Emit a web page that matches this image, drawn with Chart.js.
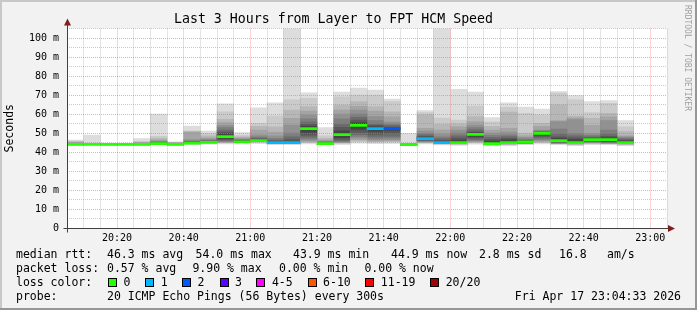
<!DOCTYPE html>
<html><head><meta charset="utf-8">
<script src="https://cdn.jsdelivr.net/npm/chart.js@4"></script>
<style>
html,body{margin:0;padding:0;background:#f2f2f2;}
#wrap{position:relative;width:697px;height:310px;overflow:hidden;}
canvas{position:absolute;left:0;top:0;}
.t{position:absolute;font-family:'DejaVu Sans Mono',monospace;font-size:11.5px;line-height:14px;white-space:pre;color:#000;}
.box{position:absolute;width:9px;height:9px;box-sizing:border-box;border:1px solid #000;}
#wm{position:absolute;left:683px;top:5px;font-family:'DejaVu Sans Mono',monospace;font-size:8px;color:#a0a0a0;writing-mode:vertical-rl;white-space:pre;}
</style></head>
<body><div id="wrap"><canvas id="c" width="697" height="310"></canvas><div id="wm">RRDTOOL / TOBI OETIKER</div></div>
<script>
// ---------- data ----------
const titleText = 'Last 3 Hours from Layer to FPT HCM Speed';
const axisStart = '20:05';
const axisEnd = '23:05';
const yMax = 105;
const intervalStarts = ['20:05','20:10','20:15','20:20','20:25','20:30','20:35','20:40','20:45','20:50',
  '20:55','21:00','21:05','21:10','21:15','21:20','21:25','21:30','21:35','21:40',
  '21:45','21:50','21:55','22:00','22:05','22:10','22:15','22:20','22:25','22:30',
  '22:35','22:40','22:45','22:50'];
// 20 sorted ping times (ms) per 5-minute interval
const pingsSorted = [
  [43.6,43.7,43.8,43.8,43.9,43.9,43.9,44.0,44.0,44.0,44.0,44.1,44.2,44.3,44.5,44.7,45.0,45.3,45.8,46.3],
  [43.7,43.8,43.8,43.9,43.9,43.9,44.0,44.0,44.0,44.0,44.0,44.1,44.1,44.2,44.2,44.3,44.4,44.5,44.7,48.9],
  [43.6,43.7,43.8,43.8,43.9,43.9,43.9,44.0,44.0,44.0,44.0,44.0,44.1,44.1,44.1,44.2,44.2,44.3,44.4,44.5],
  [43.7,43.7,43.8,43.8,43.9,43.9,44.0,44.0,44.0,44.0,44.0,44.1,44.1,44.1,44.2,44.2,44.3,44.3,44.4,44.6],
  [43.6,43.7,43.8,43.8,43.9,43.9,43.9,44.0,44.0,44.0,44.0,44.1,44.2,44.3,44.4,44.6,44.9,45.2,45.5,47.0],
  [43.8,43.9,44.0,44.0,44.1,44.1,44.2,44.2,44.3,44.3,44.5,44.6,44.8,45.0,45.3,45.7,46.3,47.2,48.2,60.0],
  [43.6,43.7,43.7,43.8,43.8,43.9,43.9,43.9,44.0,44.0,44.0,44.1,44.1,44.2,44.3,44.5,44.7,44.9,45.1,45.3],
  [44.0,44.1,44.2,44.2,44.3,44.3,44.4,44.4,44.5,44.6,44.7,44.8,45.0,45.3,45.8,46.5,50.5,50.8,51.1,53.7],
  [44.2,44.3,44.4,44.5,44.6,44.7,44.8,44.9,45.0,45.1,45.2,45.4,45.6,45.9,46.3,46.8,47.5,48.5,49.8,51.0],
  [44.2,44.4,44.6,44.8,45.1,45.4,45.8,46.3,46.8,47.6,48.6,49.5,50.5,51.6,52.8,54.0,55.5,57.2,61.2,65.3],
  [44.3,44.5,44.6,44.8,44.9,45.0,45.1,45.2,45.3,45.3,45.5,45.7,45.9,46.2,46.5,46.9,47.4,48.0,48.8,50.2],
  [44.5,44.7,44.9,45.1,45.3,45.5,45.6,45.8,45.9,46.0,46.1,46.4,46.8,47.3,48.0,49.0,51.6,53.5,55.1,63.2],
  [44.0,44.1,44.2,44.3,44.4,44.5,44.6,44.7,44.8,44.9,45.0,45.3,45.7,46.3,47.2,48.5,50.5,53.3,58.9,65.9],
  [44.0,44.1,44.2,44.3,44.4,44.5,44.6,44.7,44.8,44.9,45.0,45.5,46.5,48.0,50.0,54.2,57.7,62.1,67.4,108.0],
  [44.2,44.5,44.8,45.2,45.8,46.5,47.5,48.5,50.0,51.8,52.8,53.5,54.5,55.8,57.5,59.5,61.5,63.9,68.2,71.2],
  [43.8,43.9,44.0,44.1,44.2,44.2,44.3,44.3,44.4,44.4,44.5,44.6,44.8,45.0,45.3,45.7,46.3,47.2,48.5,52.8],
  [44.0,44.2,44.4,44.6,44.8,45.1,45.6,46.3,47.2,48.4,49.8,51.2,53.0,55.0,57.5,60.0,62.0,64.7,69.1,71.6],
  [44.6,45.0,45.5,46.1,46.9,47.8,48.8,50.0,51.5,53.2,54.4,55.5,56.8,58.3,60.0,62.1,64.0,66.5,70.0,73.7],
  [44.4,44.7,45.0,45.4,46.0,46.8,47.8,49.0,50.5,51.9,52.7,53.3,54.0,55.0,56.5,58.6,61.5,63.9,70.0,72.6],
  [44.5,44.8,45.1,45.6,46.2,47.0,48.0,49.5,51.0,52.1,52.5,52.9,53.4,54.0,54.8,55.9,58.5,61.2,66.5,67.9],
  [43.6,43.7,43.7,43.8,43.8,43.9,43.9,43.9,43.9,43.9,44.0,44.0,44.1,44.1,44.2,44.2,44.3,44.4,44.6,49.8],
  [44.2,44.4,44.6,44.8,45.0,45.3,45.6,45.9,46.3,46.8,47.3,47.7,48.3,49.0,49.8,51.0,52.5,59.5,60.7,61.8],
  [43.7,43.8,43.9,44.0,44.1,44.2,44.3,44.4,44.5,44.7,45.1,45.6,46.2,47.0,48.0,49.5,51.6,54.5,57.9,108.0],
  [43.6,43.7,43.8,43.8,43.9,43.9,44.0,44.1,44.3,44.6,45.4,46.3,47.3,48.5,50.0,51.6,53.2,54.8,56.8,73.0],
  [44.1,44.4,44.7,45.0,45.4,45.8,46.3,47.0,47.8,48.7,49.5,50.1,50.8,51.7,52.8,54.2,56.0,58.6,64.2,71.6],
  [43.5,43.5,43.6,43.6,43.7,43.7,43.8,43.8,43.9,44.1,44.7,45.8,46.7,47.7,48.8,50.0,51.6,53.5,55.9,58.1],
  [43.5,43.6,43.7,43.7,43.8,43.8,43.9,44.0,44.1,44.4,45.4,46.4,47.2,48.1,49.0,50.5,52.5,61.0,63.5,65.9],
  [43.8,43.9,44.0,44.1,44.2,44.4,44.5,44.7,44.9,45.2,45.6,45.9,46.2,46.6,47.1,47.7,48.5,49.8,60.4,63.7],
  [44.2,44.5,44.8,45.2,45.7,46.3,47.0,47.8,48.6,49.4,49.8,50.0,50.3,50.6,51.0,51.6,53.5,55.1,59.5,62.6],
  [43.8,43.9,44.0,44.1,44.2,44.4,44.6,44.9,45.2,45.7,46.5,47.2,48.0,49.5,52.0,56.0,56.5,65.0,71.0,71.8],
  [43.5,43.6,43.7,43.7,43.8,43.8,43.9,44.0,44.2,44.4,45.4,46.5,47.5,48.5,49.8,57.0,58.0,58.9,67.4,69.7],
  [43.8,44.0,44.2,44.4,44.6,44.9,45.2,45.5,45.9,46.3,46.7,47.0,47.4,48.0,48.8,49.8,54.0,57.7,60.7,66.5],
  [43.8,43.9,44.0,44.1,44.3,44.5,44.7,45.0,45.5,46.1,46.9,47.5,48.3,49.5,51.6,56.5,58.5,60.4,65.6,67.0],
  [43.5,43.6,43.7,43.7,43.8,43.8,43.9,44.0,44.2,44.5,45.3,45.8,46.3,46.8,47.4,48.0,48.5,50.7,53.3,56.5]
];
const medianRtt = [44.0,44.0,44.0,44.0,44.0,44.4,44.0,44.6,45.1,48.1,45.4,46.0,44.9,44.9,52.3,44.4,49.1,54.0,52.3,52.3,
  43.9,47.0,44.9,44.9,49.3,44.4,44.9,45.4,49.8,46.0,44.9,46.5,46.5,44.9];
const lostPings = [0,0,0,0,0,0,0,0,0,0,0,0,1,1,0,0,0,0,1,2,0,1,1,0,0,0,0,0,0,0,0,0,0,0];
const xTickLabels = ['20:20','20:40','21:00','21:20','21:40','22:00','22:20','22:40','23:00'];
const yTickValues = [0,10,20,30,40,50,60,70,80,90,100];
const yTickLabels = ['0','10 m','20 m','30 m','40 m','50 m','60 m','70 m','80 m','90 m','100 m'];
const lossColorLabels = ['0','1','2','3','4-5','6-10','11-19','20/20'];
const lossColorMax = [0,1,2,3,5,10,19,20];
const lossColors = ['#26ff00','#00b8ff','#0059ff','#5e00ff','#ff00ff','#ff5500','#ff0000','#a10000'];
const rttStats = [46.3,54.0,43.9,44.9,2.8];
const rttStatNames = ['avg','max','min','now','sd'];
const amsValue = 16.8;
const lossStats = [0.57,9.90,0.00,0.00];
const lossStatNames = ['avg','max','min','now'];
const probeText = '20 ICMP Echo Pings (56 Bytes) every 300s';
const stampText = 'Fri Apr 17 23:04:33 2026';

// ---------- helpers ----------
const FONT = "'DejaVu Sans Mono', monospace";
const toMin = s => { const [h, m] = s.split(':').map(Number); return h * 60 + m; };
const t0 = toMin(axisStart);
const STEP = 5;
const xCenter = i => toMin(intervalStarts[i]) - t0 + STEP / 2;
const lossColorFor = n => lossColors[lossColorMax.findIndex(m => n <= m)];
const MEDIAN_HALF = 0.53;

// ---------- datasets ----------
const datasets = [];
const nPings = pingsSorted[0].length;
const half = nPings / 2;
for (let j = 0; j < nPings - 1; j++) {
  const ibot = Math.min(j, nPings - 2 - j) + 1;
  const g = Math.floor(190 / half * (half - ibot)) + 50;
  datasets.push({
    type: 'bar',
    data: pingsSorted.map((p, i) => ({ x: xCenter(i), y: [p[j], p[j + 1]] })),
    backgroundColor: `rgb(${g},${g},${g})`,
    borderWidth: 0, grouped: false, barPercentage: 1, categoryPercentage: 1, order: 1
  });
}
datasets.push({
  type: 'bar',
  data: medianRtt.map((m, i) => ({ x: xCenter(i), y: [m - MEDIAN_HALF, m + MEDIAN_HALF] })),
  backgroundColor: lostPings.map(lossColorFor),
  borderWidth: 0, grouped: false, barPercentage: 1, categoryPercentage: 1, order: -1
});

const MINOR = 'rgba(140,140,140,0.45)';
const MAJOR = 'rgba(240,100,100,0.55)';
const xMax = toMin(axisEnd) - t0;
const xMajors = xTickLabels.map(l => toMin(l) - t0);

const framePlugin = {
  id: 'frame',
  beforeDraw(chart) {
    const { ctx, width, height, chartArea: a } = chart;
    ctx.save();
    ctx.fillStyle = '#f2f2f2'; ctx.fillRect(0, 0, width, height);
    ctx.fillStyle = '#c8c8c8'; ctx.fillRect(0, 0, width, 2); ctx.fillRect(0, 0, 2, height);
    ctx.fillStyle = '#969696'; ctx.fillRect(0, height - 2, width, 2); ctx.fillRect(width - 2, 0, 2, height);
    ctx.fillStyle = '#ffffff'; ctx.fillRect(a.left, a.top, a.right - a.left, a.bottom - a.top);
    ctx.restore();
  },
  afterDraw(chart) {
    const { ctx, chartArea: a } = chart;
    const xl = Math.round(a.left) + 0.5, yb = Math.round(a.bottom) + 0.5;
    ctx.save();
    ctx.strokeStyle = '#404040'; ctx.lineWidth = 1;
    ctx.beginPath(); ctx.moveTo(xl, yb + 4); ctx.lineTo(xl, a.top - 6); ctx.stroke();
    ctx.beginPath(); ctx.moveTo(xl - 4, yb); ctx.lineTo(a.right + 4, yb); ctx.stroke();
    ctx.fillStyle = '#801f1f';
    ctx.beginPath(); ctx.moveTo(xl, a.top - 10); ctx.lineTo(xl - 3.5, a.top - 3); ctx.lineTo(xl + 3.5, a.top - 3); ctx.closePath(); ctx.fill();
    ctx.beginPath(); ctx.moveTo(a.right + 8, yb); ctx.lineTo(a.right + 1, yb - 3.5); ctx.lineTo(a.right + 1, yb + 3.5); ctx.closePath(); ctx.fill();
    ctx.restore();
  }
};

new Chart(document.getElementById('c'), {
  data: { datasets },
  options: {
    responsive: false, animation: false, events: [],
    layout: { padding: { left: 0, right: 30, top: 0, bottom: 0 } },
    plugins: {
      legend: { display: false }, tooltip: { enabled: false },
      title: { display: true, text: titleText, color: '#000',
        font: { family: FONT, size: 13.25, weight: 'normal' }, padding: { top: 12, bottom: 0.6 } }
    },
    scales: {
      x: {
        type: 'linear', min: 0, max: xMax, offset: false,
        afterBuildTicks: s => { const t = []; for (let v = 0; v <= xMax; v += STEP) t.push({ value: v }); s.ticks = t; },
        afterFit: s => { s.height = 82; },
        ticks: { autoSkip: false, maxRotation: 0, padding: 4, color: '#000', font: { family: FONT, size: 10 },
          callback: v => { const k = xMajors.indexOf(v); return k >= 0 ? xTickLabels[k] : ''; } },
        grid: { z: 1, drawTicks: false, lineWidth: 1, offset: false,
          color: c => (c.tick && xMajors.includes(c.tick.value)) ? MAJOR : MINOR },
        border: { display: false, dash: [1, 1] }
      },
      y: {
        type: 'linear', min: 0, max: yMax,
        afterBuildTicks: s => { const t = []; for (let v = 0; v <= yMax; v += 5) t.push({ value: v }); s.ticks = t; },
        afterFit: s => { s.width = 67; },
        ticks: { autoSkip: false, padding: 8, color: '#000', font: { family: FONT, size: 10 },
          callback: v => { const k = yTickValues.indexOf(v); return k >= 0 ? yTickLabels[k] : ''; } },
        grid: { z: 1, drawTicks: false, lineWidth: 1,
          color: c => (c.tick && yTickValues.includes(c.tick.value)) ? MAJOR : MINOR },
        border: { display: false, dash: [1, 1] },
        title: { display: true, text: 'Seconds', color: '#000', font: { family: FONT, size: 11.5 }, padding: { top: 3, bottom: 0 } }
      }
    }
  },
  plugins: [framePlugin]
});

// ---------- legend text ----------
const wrap = document.getElementById('wrap');
function txt(x, yc, s, right) {
  const d = document.createElement('div');
  d.className = 't'; d.textContent = s; d.style.top = (yc - 7) + 'px';
  if (right) d.style.right = (697 - x) + 'px'; else d.style.left = x + 'px';
  wrap.appendChild(d);
}
const rows = [254, 268, 282, 296];
txt(16, rows[0], 'median rtt:');
const rttX = [107, 195.6, 293, 391, 479];
rttStats.forEach((v, i) => txt(rttX[i], rows[0], v.toFixed(1) + ' ms ' + rttStatNames[i]));
txt(559, rows[0], amsValue.toFixed(1));
txt(607, rows[0], 'am/s');
txt(16, rows[1], 'packet loss:');
const lossX = [107, 192.4, 279, 364.4];
lossStats.forEach((v, i) => txt(lossX[i], rows[1], v.toFixed(2) + ' % ' + lossStatNames[i]));
txt(16, rows[2], 'loss color:');
const boxX = [108, 145.3, 182, 219.5, 256.4, 307.6, 365.3, 430.2];
lossColorLabels.forEach((l, i) => {
  const b = document.createElement('div');
  b.className = 'box'; b.style.left = boxX[i] + 'px'; b.style.top = (rows[2] - 4.5) + 'px';
  b.style.background = lossColors[i]; wrap.appendChild(b);
  txt(boxX[i] + 15.5, rows[2], l);
});
txt(16, rows[3], 'probe:');
txt(107, rows[3], probeText);
txt(681, rows[3], stampText, true);
</script>
</body></html>
